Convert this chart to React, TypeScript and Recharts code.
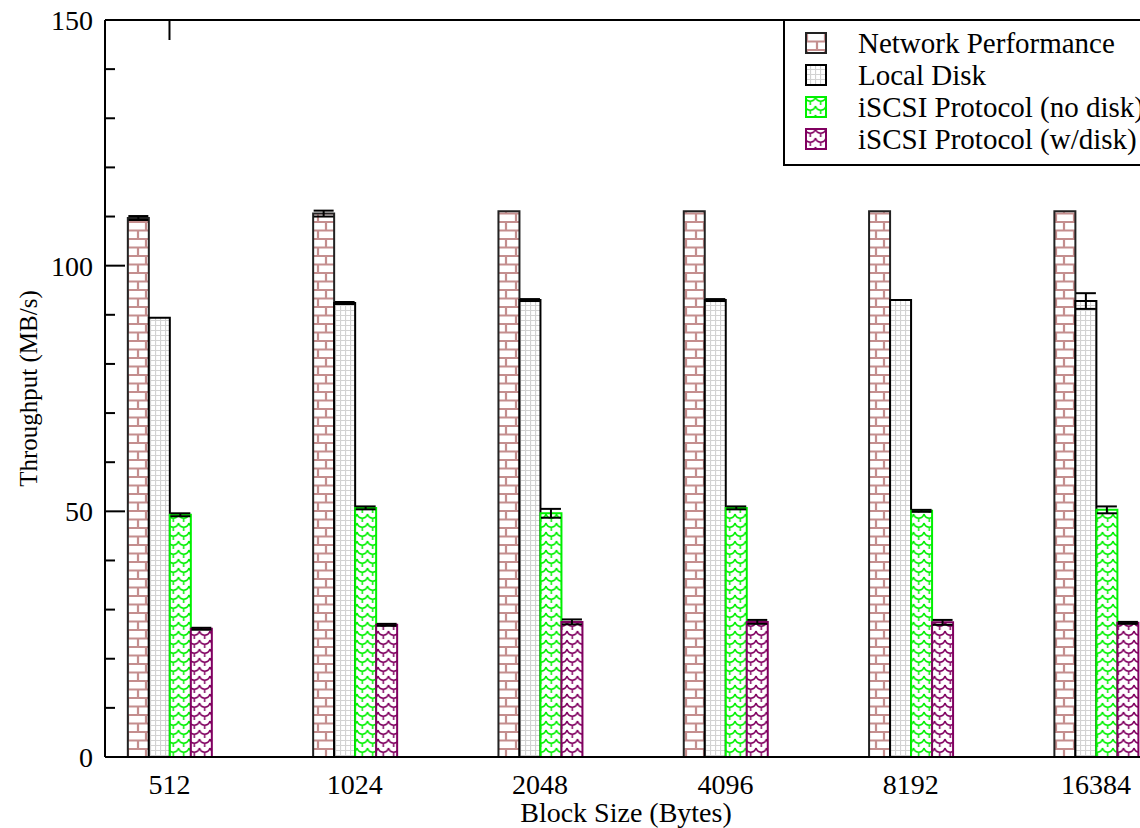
import { ComposedChart, Bar, XAxis, YAxis, ErrorBar, Label } from 'recharts'

// ---------------------------------------------------------------------------
// Data
// ---------------------------------------------------------------------------
const categories = ['512', '1024', '2048', '4096', '8192', '16384']

const network = [109.7, 110.6, 111.1, 111.1, 111.1, 111.1]
const networkErr = [0.4, 0.6, 0, 0, 0, 0]

const localDisk = [89.4, 92.4, 93.0, 93.0, 93.0, 92.8]
const localDiskErr = [0, 0.2, 0.2, 0.2, 0, 1.6]

const iscsiNoDisk = [49.3, 50.7, 49.6, 50.7, 50.1, 50.3]
const iscsiNoDiskErr = [0.3, 0.3, 0.9, 0.3, 0.2, 0.7]

const iscsiDisk = [26.1, 26.9, 27.5, 27.5, 27.4, 27.3]
const iscsiDiskErr = [0.2, 0.2, 0.5, 0.4, 0.5, 0.2]

const yTicks = [0, 10, 20, 30, 40, 50, 60, 70, 80, 90, 100, 110, 120, 130, 140, 150]
const xTicks = [0, 1, 2, 3, 4, 5]
const xMajorTicks = [0, 5]

const data = categories.map((label, i) => ({
  idx: i,
  label,
  network: network[i],
  networkErr: networkErr[i],
  localDisk: localDisk[i],
  localDiskErr: localDiskErr[i],
  iscsiNoDisk: iscsiNoDisk[i],
  iscsiNoDiskErr: iscsiNoDiskErr[i],
  iscsiDisk: iscsiDisk[i],
  iscsiDiskErr: iscsiDiskErr[i],
}))

const FONT = '"Liberation Serif", "Times New Roman", serif'
const GREEN = '#00f000'
const PURPLE = '#800060'
const BRICK = '#c48e8e'

const legendItems = [
  { name: 'Network Performance', fill: 'url(#pat-brick)', stroke: '#222' },
  { name: 'Local Disk', fill: 'url(#pat-grid)', stroke: '#000' },
  { name: 'iSCSI Protocol (no disk)', fill: 'url(#pat-green)', stroke: GREEN },
  { name: 'iSCSI Protocol (w/disk)', fill: 'url(#pat-purple)', stroke: PURPLE },
]

const X_DOMAIN: [number, number] = [-0.348, 5.275]

// ---------------------------------------------------------------------------
// Ticks (all pointing into the frame)
// ---------------------------------------------------------------------------
function LeftTick(props: any) {
  const { x, y, payload } = props
  const major = payload.value % 50 === 0
  return (
    <g>
      <line x1={x} x2={x + (major ? 20 : 10)} y1={y} y2={y} stroke="#000" strokeWidth={2} />
      {major && (
        <text x={x - 12} y={y} dy={10} textAnchor="end" fontSize={28} fontFamily={FONT} fill="#000">
          {payload.value}
        </text>
      )}
    </g>
  )
}

function RightTick(props: any) {
  const { x, y, payload } = props
  const major = payload.value % 50 === 0
  return <line x1={x} x2={x - (major ? 20 : 10)} y1={y} y2={y} stroke="#000" strokeWidth={2} />
}

function BottomTick(props: any) {
  const { x, y, payload } = props
  return (
    <text x={x} y={y + 37} textAnchor="middle" fontSize={28} fontFamily={FONT} fill="#000">
      {categories[payload.value]}
    </text>
  )
}

function TopTick(props: any) {
  const { x, y } = props
  return <line x1={x} x2={x} y1={y} y2={y + 20} stroke="#000" strokeWidth={2} />
}

function YTitle(props: any) {
  const vb = props.viewBox
  const cx = vb.x + 28
  const cy = vb.y + vb.height / 2
  return (
    <text
      x={cx}
      y={cy}
      transform={`rotate(-90 ${cx} ${cy})`}
      textAnchor="middle"
      dominantBaseline="central"
      fontSize={25}
      fontFamily={FONT}
      fill="#000"
    >
      Throughput (MB/s)
    </text>
  )
}

function XTitle(props: any) {
  const vb = props.viewBox
  return (
    <text x={vb.x + vb.width / 2} y={vb.y + 65} textAnchor="middle" fontSize={28} fontFamily={FONT} fill="#000">
      Block Size (Bytes)
    </text>
  )
}

// ---------------------------------------------------------------------------
// Fill patterns
// ---------------------------------------------------------------------------
function Patterns() {
  return (
    <svg width={0} height={0} style={{ position: 'absolute' }}>
      <defs>
        <pattern id="pat-brick" patternUnits="userSpaceOnUse" width={18} height={17}>
          <rect width={18} height={17} fill="#fff" />
          <path d="M0 1 H18 M0 9.5 H18 M2 1 V9.5 M12 9.5 V17" stroke={BRICK} strokeWidth={2.2} fill="none" />
        </pattern>
        <pattern id="pat-grid" patternUnits="userSpaceOnUse" width={5} height={5}>
          <rect width={5} height={5} fill="#fff" />
          <path d="M0.5 0 V5 M0 0.5 H5" stroke="#d2d2d2" strokeWidth={1.2} fill="none" />
        </pattern>
        <pattern id="pat-green" patternUnits="userSpaceOnUse" width={10.5} height={9}>
          <rect width={10.5} height={9} fill="#fff" />
          <path d="M0 1 C1.5 6.5 9 6.5 10.5 1 M5.25 5.2 V9" stroke={GREEN} strokeWidth={1.5} fill="none" />
        </pattern>
        <pattern id="pat-purple" patternUnits="userSpaceOnUse" width={10.5} height={9}>
          <rect width={10.5} height={9} fill="#fff" />
          <path d="M0 1 C1.5 6.5 9 6.5 10.5 1 M5.25 5.2 V9" stroke={PURPLE} strokeWidth={1.5} fill="none" />
        </pattern>
      </defs>
    </svg>
  )
}

// ---------------------------------------------------------------------------
// Legend (boxed, top right)
// ---------------------------------------------------------------------------
function ChartLegend() {
  return (
    <div
      style={{
        position: 'absolute',
        left: 783,
        top: 19,
        width: 400,
        height: 147,
        border: '2px solid #000',
        background: '#fff',
        boxSizing: 'border-box',
        paddingTop: 6,
      }}
    >
      {legendItems.map((item) => (
        <div key={item.name} style={{ display: 'flex', alignItems: 'center', height: 32 }}>
          <svg width={22} height={22} style={{ marginLeft: 20 }}>
            <rect x={1} y={1} width={20} height={20} fill={item.fill} stroke={item.stroke} strokeWidth={2} />
          </svg>
          <span style={{ marginLeft: 31, fontFamily: FONT, fontSize: 29, color: '#000', lineHeight: '32px' }}>
            {item.name}
          </span>
        </div>
      ))}
    </div>
  )
}

// ---------------------------------------------------------------------------
// Component
// ---------------------------------------------------------------------------
export default function App() {
  return (
    <div
      style={{
        position: 'absolute',
        left: 0,
        top: 0,
        width: 1140,
        height: 828,
        overflow: 'hidden',
        background: '#fff',
      }}
    >
      <Patterns />
      <ComposedChart
        width={1170}
        height={828}
        data={data}
        margin={{ top: 19, right: 23, bottom: 0, left: 0 }}
        barGap={0}
        barSize={21}
      >
        <XAxis
          dataKey="idx"
          type="number"
          domain={X_DOMAIN}
          ticks={xTicks}
          allowDataOverflow
          height={71}
          tickSize={0}
          tickMargin={0}
          tick={BottomTick}
          axisLine={{ stroke: '#000', strokeWidth: 2 }}
          interval={0}
        >
          <Label content={XTitle} />
        </XAxis>
        <XAxis
          xAxisId="top"
          orientation="top"
          dataKey="idx"
          type="number"
          domain={X_DOMAIN}
          ticks={xMajorTicks}
          allowDataOverflow
          height={1}
          tickSize={0}
          tickMargin={0}
          tick={TopTick}
          axisLine={{ stroke: '#000', strokeWidth: 2 }}
          interval={0}
        />
        <YAxis
          domain={[0, 150]}
          ticks={yTicks}
          width={105}
          tickSize={0}
          tickMargin={0}
          tick={LeftTick}
          axisLine={{ stroke: '#000', strokeWidth: 2 }}
          interval={0}
        >
          <Label content={YTitle} />
        </YAxis>
        <YAxis
          yAxisId="right"
          orientation="right"
          domain={[0, 150]}
          ticks={yTicks}
          width={0}
          tickSize={0}
          tickMargin={0}
          tick={RightTick}
          axisLine={{ stroke: '#000', strokeWidth: 2 }}
          interval={0}
        />

        <Bar dataKey="network" fill="url(#pat-brick)" stroke="#222" strokeWidth={2} isAnimationActive={false}>
          <ErrorBar dataKey="networkErr" width={10} stroke="#000" strokeWidth={2} direction="y" isAnimationActive={false} />
        </Bar>
        <Bar dataKey="localDisk" fill="url(#pat-grid)" stroke="#000" strokeWidth={2} isAnimationActive={false}>
          <ErrorBar dataKey="localDiskErr" width={10} stroke="#000" strokeWidth={2} direction="y" isAnimationActive={false} />
        </Bar>
        <Bar dataKey="iscsiNoDisk" fill="url(#pat-green)" stroke={GREEN} strokeWidth={2} isAnimationActive={false}>
          <ErrorBar dataKey="iscsiNoDiskErr" width={10} stroke="#000" strokeWidth={2} direction="y" isAnimationActive={false} />
        </Bar>
        <Bar dataKey="iscsiDisk" fill="url(#pat-purple)" stroke={PURPLE} strokeWidth={2} isAnimationActive={false}>
          <ErrorBar dataKey="iscsiDiskErr" width={10} stroke="#000" strokeWidth={2} direction="y" isAnimationActive={false} />
        </Bar>
      </ComposedChart>
      <ChartLegend />
    </div>
  )
}
